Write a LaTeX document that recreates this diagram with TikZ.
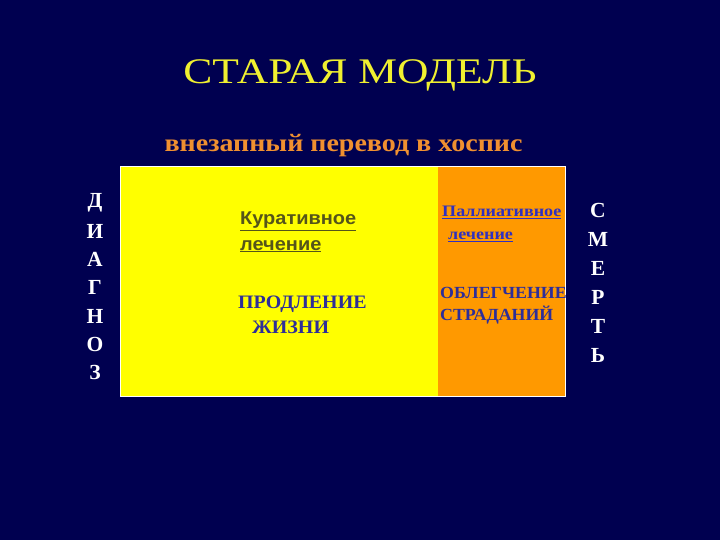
\documentclass[tikz,border=0pt]{standalone}
\usepackage{graphicx}
\usepackage{fontspec}
\setmainfont{Liberation Serif}
\newfontfamily\arialf{Liberation Sans}
\definecolor{bgnavy}{HTML}{000050}
\definecolor{titley}{HTML}{F0F030}
\definecolor{suborange}{HTML}{F09030}
\definecolor{boxyellow}{HTML}{FFFF00}
\definecolor{boxorange}{HTML}{FF9900}
\definecolor{olivetxt}{HTML}{55551A}
\definecolor{bluetxt}{HTML}{2E2E99}
\definecolor{palltxt}{HTML}{3030C0}
\newcommand{\hstretch}[2]{\scalebox{#1}[1]{#2}}
\tikzset{
  letter/.style={text=white,font=\fontsize{21.5}{21.5}\selectfont\bfseries,anchor=center,inner sep=0pt},
  lbl/.style={anchor=base west,inner sep=0pt},
  curtxt/.style={lbl,text=olivetxt,font=\arialf\fontsize{18.5}{18.5}\selectfont\bfseries},
  lifetxt/.style={lbl,text=bluetxt,font=\fontsize{19}{19}\selectfont\bfseries},
  palltx/.style={lbl,text=palltxt,font=\fontsize{16}{16}\selectfont\bfseries},
  relieftxt/.style={lbl,text=bluetxt,font=\fontsize{17}{17}\selectfont\bfseries},
}
\begin{document}
\begin{tikzpicture}[x=1pt,y=-1pt]
\fill[bgnavy] (0,0) rectangle (720,540);
\useasboundingbox (0,0) rectangle (720,540);
% title
\node[text=titley,font=\fontsize{36}{36}\selectfont,anchor=base,inner sep=0pt] (title) at (360,84) {\hstretch{1.21}{СТАРАЯ МОДЕЛЬ}};
\node[text=suborange,font=\fontsize{25}{25}\selectfont\bfseries,anchor=base,inner sep=0pt] (sub) at (343.5,152) {\hstretch{1.12}{внезапный перевод в хоспис}};
% boxes
\fill[boxyellow] (120,167) rectangle (438,396);
\fill[boxorange] (438,167) rectangle (565,396);
\draw[white,line width=1pt] (120,167) rectangle (565,396);
% left letters
\foreach \l [count=\i from 0] in {Д,И,А,Г,Н,О,З}
  \node[letter] (d\i) at (95,{203+28.3*\i}) {\l};
% right letters
\foreach \l [count=\i from 0] in {С,М,Е,Р,Т,Ь}
  \node[letter] (s\i) at (598,{210+29*\i}) {\l};
% curative
\node[curtxt] (k1) at (240,225) {\hstretch{1.08}{\underline{Куративное}}};
\node[curtxt] (k2) at (240,250) {\hstretch{1.08}{\underline{лечение}}};
\node[lifetxt] (p1) at (238,308) {\hstretch{1.05}{ПРОДЛЕНИЕ}};
\node[lifetxt] (p2) at (252,333) {\hstretch{1.05}{ЖИЗНИ}};
% palliative
\node[palltx] (pa1) at (442,217) {\hstretch{1.13}{\underline{Паллиативное}}};
\node[palltx] (pa2) at (448,240) {\hstretch{1.13}{\underline{лечение}}};
\node[relieftxt] (o1) at (440,298) {\hstretch{1.05}{ОБЛЕГЧЕНИЕ}};
\node[relieftxt] (o2) at (440,320) {\hstretch{1.05}{СТРАДАНИЙ}};
\end{tikzpicture}
\end{document}
